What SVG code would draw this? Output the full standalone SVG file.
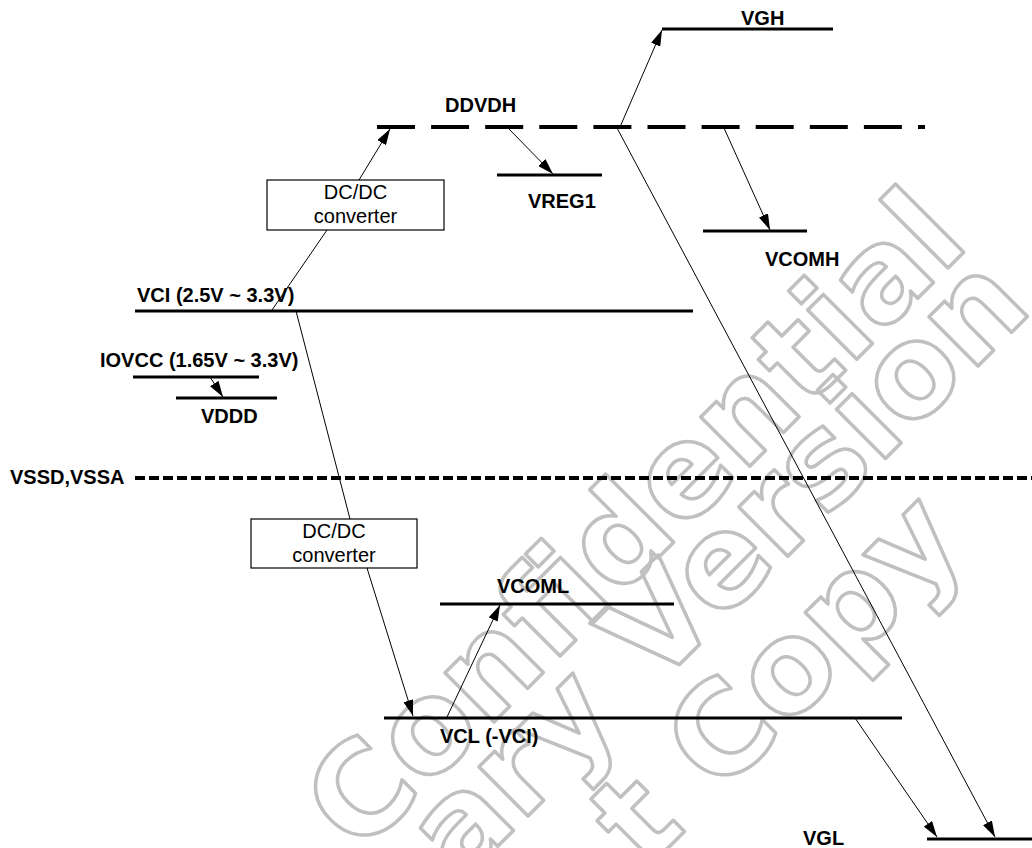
<svg xmlns="http://www.w3.org/2000/svg" width="1032" height="848" viewBox="0 0 1032 848">
<style>
.lbl{font-family:"Liberation Sans",Arial,sans-serif;font-weight:bold;font-size:20px;fill:#000}
.box{fill:#fff;stroke:#000;stroke-width:1.2}
.boxt{font-family:"Liberation Sans",Arial,sans-serif;font-size:20px;fill:#000;text-anchor:middle}
.rail{stroke:#000;stroke-width:3;fill:none}
.conn{stroke:#000;stroke-width:1;fill:none}
.wm{font-family:"DejaVu Sans",sans-serif;font-weight:bold;font-size:127px;fill:none;stroke:#c0c0c0;stroke-width:3.5;stroke-linejoin:round}
</style>
<defs>
<marker id="ah" viewBox="0 0 16 10" refX="16" refY="5" markerWidth="16" markerHeight="10" orient="auto" markerUnits="userSpaceOnUse">
<path d="M0,0 L16,5 L0,10 z" fill="#000"/>
</marker>
</defs>
<rect width="1032" height="848" fill="#fff"/>
<g id="watermark">
<text class="wm" transform="translate(359,857) rotate(-45)">Confidential</text>
<text class="wm" transform="translate(460,884) rotate(-45)">ary Version</text>
<text class="wm" transform="translate(645,871) rotate(-45)">t Copy</text>
</g>
<g id="connectors">
<line class="conn" x1="272" y1="310" x2="327" y2="230"/>
<line class="conn" x1="359" y1="180" x2="390" y2="129" marker-end="url(#ah)"/>
<line class="conn" x1="620" y1="127" x2="662" y2="30" marker-end="url(#ah)"/>
<line class="conn" x1="508" y1="128" x2="553" y2="174" marker-end="url(#ah)"/>
<line class="conn" x1="724" y1="128" x2="770" y2="230" marker-end="url(#ah)"/>
<line class="conn" x1="210" y1="377" x2="223" y2="397" marker-end="url(#ah)"/>
<line class="conn" x1="296" y1="311" x2="350" y2="519"/>
<line class="conn" x1="367" y1="568" x2="413" y2="716" marker-end="url(#ah)"/>
<line class="conn" x1="447" y1="717" x2="500" y2="605" marker-end="url(#ah)"/>
<line class="conn" x1="855" y1="718" x2="937" y2="837" marker-end="url(#ah)"/>
<line class="conn" x1="617" y1="128" x2="995" y2="837" marker-end="url(#ah)"/>
</g>
<g id="vgh"><line class="rail" x1="662" y1="29" x2="833" y2="29"/><text class="lbl" x="741" y="25">VGH</text></g>
<g id="ddvdh"><line x1="377" y1="127" x2="925" y2="127" stroke="#000" stroke-width="4" stroke-dasharray="38 16.1"/><text class="lbl" x="445" y="112">DDVDH</text></g>
<g id="vreg1"><line class="rail" x1="497" y1="175" x2="602" y2="175"/><text class="lbl" x="528" y="208">VREG1</text></g>
<g id="vcomh"><line class="rail" x1="703" y1="231" x2="807" y2="231"/><text class="lbl" x="765" y="266">VCOMH</text></g>
<g id="dcdc1"><rect class="box" x="267" y="180" width="177" height="50"/><text class="boxt" x="355.5" y="199">DC/DC</text><text class="boxt" x="355.5" y="223">converter</text></g>
<g id="vci"><line class="rail" x1="135" y1="311" x2="693" y2="311"/><text class="lbl" x="137" y="302">VCI (2.5V ~ 3.3V)</text></g>
<g id="iovcc"><line class="rail" x1="133" y1="377" x2="259" y2="377"/><text class="lbl" x="100" y="367">IOVCC (1.65V ~ 3.3V)</text></g>
<g id="vddd"><line class="rail" x1="176" y1="398" x2="277" y2="398"/><text class="lbl" x="201" y="423">VDDD</text></g>
<g id="vssd"><line x1="135" y1="478" x2="1032" y2="478" stroke="#000" stroke-width="4" stroke-dasharray="10 4"/><text class="lbl" x="10" y="484">VSSD,VSSA</text></g>
<g id="dcdc2"><rect class="box" x="251" y="519" width="166" height="49"/><text class="boxt" x="334" y="538">DC/DC</text><text class="boxt" x="334" y="562">converter</text></g>
<g id="vcoml"><line class="rail" x1="440" y1="604" x2="674" y2="604"/><text class="lbl" x="497" y="593">VCOML</text></g>
<g id="vcl"><line class="rail" x1="384" y1="718" x2="902" y2="718"/><text class="lbl" x="440" y="743">VCL (-VCI)</text></g>
<g id="vgl"><line class="rail" x1="927" y1="839" x2="1032" y2="839"/><text class="lbl" x="803" y="845">VGL</text></g>
</svg>
